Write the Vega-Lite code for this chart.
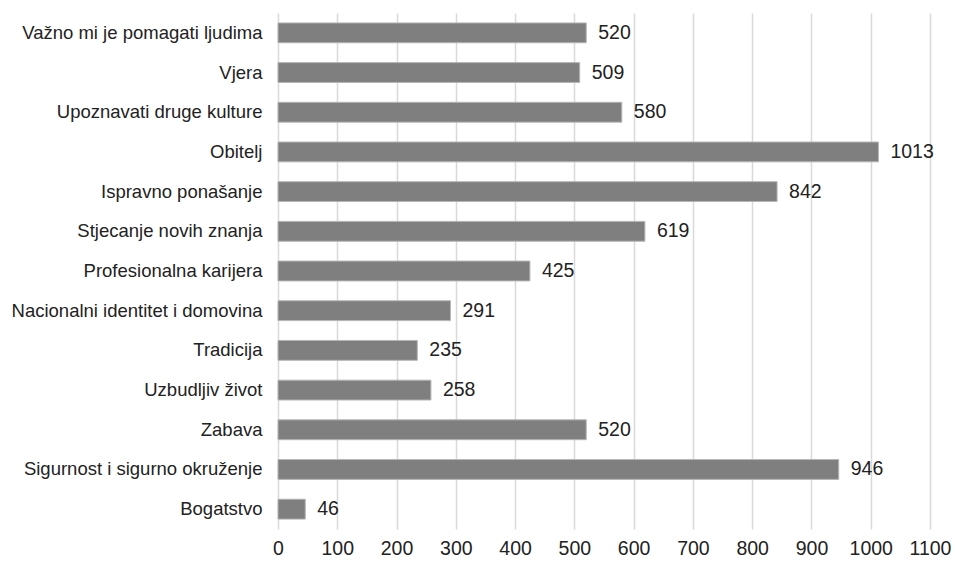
{
  "$schema": "https://vega.github.io/schema/vega-lite/v6.json",
  "autosize": "none",
  "width": 652,
  "height": 516,
  "padding": {"left": 278, "top": 13, "right": 25, "bottom": 39},
  "background": "white",
  "config": {"view": {"stroke": null}, "font": "Liberation Sans"},
  "data": {"values": [
    {"k": "Važno mi je pomagati ljudima", "v": 520},
    {"k": "Vjera", "v": 509},
    {"k": "Upoznavati druge kulture", "v": 580},
    {"k": "Obitelj", "v": 1013},
    {"k": "Ispravno ponašanje", "v": 842},
    {"k": "Stjecanje novih znanja", "v": 619},
    {"k": "Profesionalna karijera", "v": 425},
    {"k": "Nacionalni identitet i domovina", "v": 291},
    {"k": "Tradicija", "v": 235},
    {"k": "Uzbudljiv život", "v": 258},
    {"k": "Zabava", "v": 520},
    {"k": "Sigurnost i sigurno okruženje", "v": 946},
    {"k": "Bogatstvo", "v": 46}
  ]},
  "encoding": {
    "y": {"field": "k", "type": "nominal", "sort": null, "title": null,
      "scale": {"paddingInner": 0.5, "paddingOuter": 0.25},
      "axis": {"ticks": false, "domain": false, "labelPadding": 16, "labelFontSize": 18.5, "labelColor": "#222", "labelLimit": 300}},
    "x": {"field": "v", "type": "quantitative", "title": null,
      "scale": {"domain": [0, 1100], "nice": false},
      "axis": {"values": [0,100,200,300,400,500,600,700,800,900,1000,1100], "format": "d", "ticks": false, "domain": false, "labelPadding": 10, "labelFontSize": 19.5, "labelColor": "#222", "gridColor": "#d9d9d9", "gridWidth": 1.5, "labelFlush": false}}
  },
  "layer": [
    {"mark": {"type": "bar", "color": "#7f7f80", "stroke": "#b5b5b5", "strokeWidth": 1}},
    {"mark": {"type": "text", "align": "left", "baseline": "middle", "dx": 12, "fontSize": 19.5, "color": "#222"},
     "encoding": {"text": {"field": "v", "type": "quantitative", "format": "d"}}}
  ]
}
